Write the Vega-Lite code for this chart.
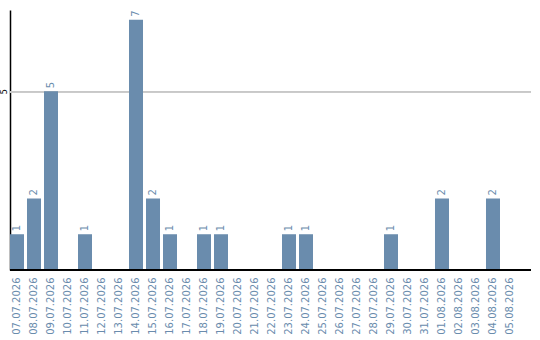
{
  "$schema": "https://vega.github.io/schema/vega-lite/v6.json",
  "width": 521,
  "height": 260,
  "autosize": {"type": "none"},
  "padding": {"left": 10, "top": 10, "right": 9, "bottom": 70},
  "config": {
    "view": {"stroke": null},
    "font": "DejaVu Sans"
  },
  "data": {
    "values": [
      {"date": "07.07.2026", "count": 1},
      {"date": "08.07.2026", "count": 2},
      {"date": "09.07.2026", "count": 5},
      {"date": "10.07.2026", "count": 0},
      {"date": "11.07.2026", "count": 1},
      {"date": "12.07.2026", "count": 0},
      {"date": "13.07.2026", "count": 0},
      {"date": "14.07.2026", "count": 7},
      {"date": "15.07.2026", "count": 2},
      {"date": "16.07.2026", "count": 1},
      {"date": "17.07.2026", "count": 0},
      {"date": "18.07.2026", "count": 1},
      {"date": "19.07.2026", "count": 1},
      {"date": "20.07.2026", "count": 0},
      {"date": "21.07.2026", "count": 0},
      {"date": "22.07.2026", "count": 0},
      {"date": "23.07.2026", "count": 1},
      {"date": "24.07.2026", "count": 1},
      {"date": "25.07.2026", "count": 0},
      {"date": "26.07.2026", "count": 0},
      {"date": "27.07.2026", "count": 0},
      {"date": "28.07.2026", "count": 0},
      {"date": "29.07.2026", "count": 1},
      {"date": "30.07.2026", "count": 0},
      {"date": "31.07.2026", "count": 0},
      {"date": "01.08.2026", "count": 2},
      {"date": "02.08.2026", "count": 0},
      {"date": "03.08.2026", "count": 0},
      {"date": "04.08.2026", "count": 2},
      {"date": "05.08.2026", "count": 0}
    ]
  },
  "encoding": {
    "x": {
      "field": "date",
      "type": "ordinal",
      "sort": null,
      "scale": {"range": [0, 507], "paddingInner": 0.176, "paddingOuter": 0},
      "axis": {
        "title": null,
        "domain": false,
        "ticks": false,
        "labelAngle": -90,
        "labelAlign": "right",
        "labelBaseline": "middle",
        "labelPadding": 7,
        "labelFontSize": 10,
        "labelColor": "#6a8cad",
        "labelFont": "DejaVu Sans"
      }
    },
    "y": {
      "field": "count",
      "type": "quantitative",
      "scale": {"domain": [0, 7.27], "nice": false},
      "axis": {
        "title": null,
        "values": [5],
        "ticks": false,
        "grid": false,
        "domainColor": "#000000",
        "domainWidth": 1.5,
        "labelAngle": -90,
        "labelAlign": "center",
        "labelBaseline": "bottom",
        "labelPadding": 2,
        "labelFontSize": 8,
        "labelColor": "#000000"
      }
    }
  },
  "layer": [
    {
      "mark": {"type": "rule", "color": "#c8c8c8", "strokeWidth": 1, "yOffset": 0.5},
      "encoding": {"y": {"datum": 5}, "x": {"value": 0}, "x2": {"value": 521}}
    },
    {
      "mark": {"type": "bar", "color": "#6a8cad"}
    },
    {
      "transform": [{"filter": "datum.count > 0"}],
      "mark": {
        "type": "text",
        "angle": -90,
        "align": "left",
        "baseline": "middle",
        "yOffset": -3,
        "fontSize": 10,
        "color": "#6a8cad"
      },
      "encoding": {"text": {"field": "count", "type": "quantitative"}}
    },
    {
      "mark": {"type": "rule", "color": "#000000", "strokeWidth": 1.5},
      "encoding": {"y": {"datum": 0}, "x": {"value": 0}, "x2": {"value": 521}}
    }
  ]
}
